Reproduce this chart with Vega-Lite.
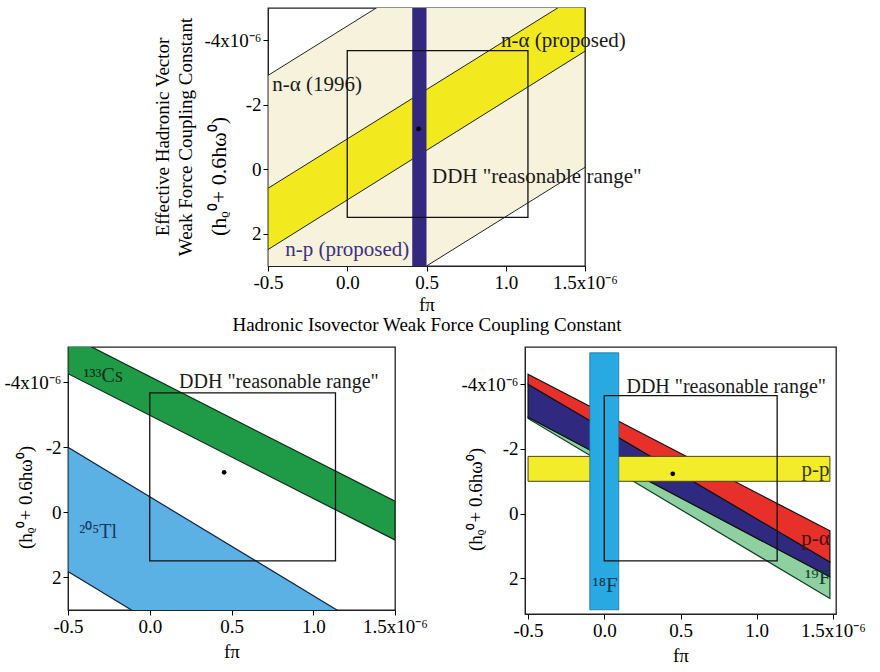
{
  "$schema": "https://vega.github.io/schema/vega-lite/v6.json",
  "background": "white",
  "padding": {"left": 3, "top": 5, "right": 0, "bottom": 0},
  "config": {
    "view": {"stroke": "#222222", "strokeWidth": 1.3},
    "axis": {"grid": false, "labelFlush": false, "labelFont": "Liberation Serif", "labelFontSize": 19, "labelColor": "black", "titleFont": "Liberation Serif", "titleFontSize": 19, "titleFontWeight": "normal", "titleColor": "black", "tickColor": "black", "domainColor": "#222222", "tickSize": 5, "labelPadding": 2},
    "text": {"font": "Liberation Serif", "fontSize": 20},
    "title": {"font": "Liberation Serif", "fontWeight": "normal", "color": "black"}
  },
  "spacing": 11,
  "vconcat": [
    {
      "spacing": 81,
      "hconcat": [
        {
          "width": 1, "height": 1, "view": {"stroke": null},
          "data": {"values": [{"x": 0}]},
          "mark": {"type": "point", "opacity": 0},
          "encoding": {"x": {"field": "x", "type": "quantitative", "axis": null}}
        },
        {
          "width": 317, "height": 258,
          "title": {"text": ["Effective Hadronic Vector", "Weak Force Coupling Constant"], "orient": "left", "anchor": "middle", "fontSize": 19, "lineHeight": 23, "offset": 8},
          "encoding": {
            "x": {"field": "x", "type": "quantitative", "scale": {"domain": [-0.5, 1.5], "nice": false, "zero": false},
              "axis": {"values": [-0.5, 0, 0.5, 1, 1.5], "labelExpr": "datum.value == 1.5 ? '1.5x10⁻⁶' : datum.value == -0.5 ? '-0.5' : format(datum.value, '.1f')", "title": ["fπ", "Hadronic Isovector Weak Force Coupling Constant"], "titleLineHeight": 20, "titlePadding": 3}},
            "y": {"field": "y", "type": "quantitative", "scale": {"domain": [-5, 3], "nice": false, "zero": false, "reverse": true},
              "axis": {"values": [-4, -2, 0, 2], "labelExpr": "datum.value == -4 ? '-4x10⁻⁶' : datum.value == -2 ? '-2' : format(datum.value, 'd')", "title": "(hᵨ⁰+ 0.6hω⁰)", "titleFontSize": 22, "titleX": -50, "titleY": 168, "titleAlign": "center", "titleBaseline": "middle", "titleAngle": 270}}
          },
          "layer": [
            {
              "data": {"values": [{"x": -0.5, "y": -2.91, "y2": 6.06}, {"x": 1.5, "y": -9.03, "y2": -0.06}]},
              "mark": {"type": "area", "orient": "vertical", "clip": true, "fill": "#f6f2dc", "stroke": "#222222", "strokeWidth": 1},
              "encoding": {"y2": {"field": "y2"}}
            },
            {
              "data": {"values": [{"x": -0.5, "y": 0.59, "y2": 2.49}, {"x": 1.5, "y": -5.53, "y2": -3.66}]},
              "mark": {"type": "area", "orient": "vertical", "clip": true, "fill": "#f2ea1e", "stroke": "#222222", "strokeWidth": 1},
              "encoding": {"y2": {"field": "y2"}}
            },
            {
              "data": {"values": [{"x": 0.41, "x2": 0.5, "y": -5, "y2": 3}]},
              "mark": {"type": "rect", "fill": "#33287f"},
              "encoding": {"x2": {"field": "x2"}, "y2": {"field": "y2"}}
            },
            {
              "data": {"values": [{"x": 0, "x2": 1.14, "y": -3.68, "y2": 1.49}]},
              "mark": {"type": "rect", "filled": false, "stroke": "#111111", "strokeWidth": 1.3},
              "encoding": {"x2": {"field": "x2"}, "y2": {"field": "y2"}}
            },
            {
              "data": {"values": [{"x": 0.45, "y": -1.25}]},
              "mark": {"type": "point", "filled": true, "color": "black", "size": 22, "opacity": 1}
            },
            {
              "data": {"values": [
                {"x": -0.19, "y": -2.6, "label": "n-α (1996)"},
                {"x": 1.364, "y": -3.97, "label": "n-α (proposed)"},
                {"x": 1.196, "y": 0.23, "label": "DDH \"reasonable range\""}
              ]},
              "mark": {"type": "text", "align": "center", "baseline": "middle", "color": "#1a1a1a", "fontSize": 21},
              "encoding": {"text": {"field": "label"}}
            },
            {
              "data": {"values": [{"x": 0.0, "y": 2.5, "label": "n-p (proposed)"}]},
              "mark": {"type": "text", "align": "center", "baseline": "middle", "color": "#3b2f86", "fontSize": 21},
              "encoding": {"text": {"field": "label"}}
            }
          ]
        }
      ]
    },
    {
      "spacing": 31,
      "hconcat": [
        {
          "width": 327, "height": 263,
          "encoding": {
            "x": {"field": "x", "type": "quantitative", "scale": {"domain": [-0.5, 1.5], "nice": false, "zero": false},
              "axis": {"values": [-0.5, 0, 0.5, 1, 1.5], "labelExpr": "datum.value == 1.5 ? '1.5x10⁻⁶' : datum.value == -0.5 ? '-0.5' : format(datum.value, '.1f')", "title": "fπ", "titlePadding": 6}},
            "y": {"field": "y", "type": "quantitative", "scale": {"domain": [-5.08, 3], "nice": false, "zero": false, "reverse": true},
              "axis": {"values": [-4, -2, 0, 2], "labelExpr": "datum.value == -4 ? '-4x10⁻⁶' : datum.value == -2 ? '-2' : format(datum.value, 'd')", "title": "(hᵨ⁰+ 0.6hω⁰)", "titleX": -43, "titleY": 150, "titleAlign": "center", "titleBaseline": "middle", "titleAngle": 270}}
          },
          "layer": [
            {
              "data": {"values": [{"x": -0.5, "y": -5.45, "y2": -4.26}, {"x": 1.5, "y": -0.34, "y2": 0.85}]},
              "mark": {"type": "area", "orient": "vertical", "clip": true, "fill": "#1f9a47", "stroke": "#0f2a18", "strokeWidth": 1.2},
              "encoding": {"y2": {"field": "y2"}}
            },
            {
              "data": {"values": [{"x": -0.5, "y": -2.0, "y2": 1.82}, {"x": 1.5, "y": 4.08, "y2": 7.9}]},
              "mark": {"type": "area", "orient": "vertical", "clip": true, "fill": "#5cb1e4", "stroke": "#14253d", "strokeWidth": 1.2},
              "encoding": {"y2": {"field": "y2"}}
            },
            {
              "data": {"values": [{"x": 0, "x2": 1.136, "y": -3.67, "y2": 1.49}]},
              "mark": {"type": "rect", "filled": false, "stroke": "#111111", "strokeWidth": 1.3},
              "encoding": {"x2": {"field": "x2"}, "y2": {"field": "y2"}}
            },
            {
              "data": {"values": [{"x": 0.455, "y": -1.23}]},
              "mark": {"type": "point", "filled": true, "color": "black", "size": 22, "opacity": 1}
            },
            {
              "data": {"values": [{"x": 0.79, "y": -4.0, "label": "DDH \"reasonable range\""}]},
              "mark": {"type": "text", "align": "center", "baseline": "middle", "color": "#1a1a1a"},
              "encoding": {"text": {"field": "label"}}
            },
            {
              "data": {"values": [{"x": -0.285, "y": -4.2, "label": "¹³³Cs"}]},
              "mark": {"type": "text", "align": "center", "baseline": "middle", "color": "#0e2e18"},
              "encoding": {"text": {"field": "label"}}
            },
            {
              "data": {"values": [{"x": -0.316, "y": 0.59, "label": "²⁰⁵Tl"}]},
              "mark": {"type": "text", "align": "center", "baseline": "middle", "color": "#173a63"},
              "encoding": {"text": {"field": "label"}}
            }
          ]
        },
        {
          "width": 311, "height": 267,
          "encoding": {
            "x": {"field": "x", "type": "quantitative", "scale": {"domain": [-0.52, 1.52], "nice": false, "zero": false},
              "axis": {"values": [-0.5, 0, 0.5, 1, 1.5], "labelExpr": "datum.value == 1.5 ? '1.5x10⁻⁶' : datum.value == -0.5 ? '-0.5' : format(datum.value, '.1f')", "title": "fπ", "titlePadding": 6}},
            "y": {"field": "y", "type": "quantitative", "scale": {"domain": [-5.15, 3.1], "nice": false, "zero": false, "reverse": true},
              "axis": {"values": [-4, -2, 0, 2], "labelExpr": "datum.value == -4 ? '-4x10⁻⁶' : datum.value == -2 ? '-2' : format(datum.value, 'd')", "title": "(hᵨ⁰+ 0.6hω⁰)", "titleX": -50, "titleY": 152, "titleAlign": "center", "titleBaseline": "middle", "titleAngle": 270}}
          },
          "layer": [
            {
              "data": {"values": [{"x": -0.5, "y": -2.98, "y2": -2.94}, {"x": 1.48, "y": 1.95, "y2": 2.62}]},
              "mark": {"type": "area", "orient": "vertical", "fill": "#8fd0a0", "stroke": "#0b3f24", "strokeWidth": 1.2},
              "encoding": {"y2": {"field": "y2"}}
            },
            {
              "data": {"values": [{"x": -0.5, "y": -4.0, "y2": -2.98}, {"x": 1.48, "y": 1.49, "y2": 1.95}]},
              "mark": {"type": "area", "orient": "vertical", "fill": "#2f2a80", "stroke": "#111111", "strokeWidth": 1.2},
              "encoding": {"y2": {"field": "y2"}}
            },
            {
              "data": {"values": [{"x": -0.5, "y": -4.31, "y2": -4.0}, {"x": 1.48, "y": 0.53, "y2": 1.49}]},
              "mark": {"type": "area", "orient": "vertical", "fill": "#e8302b", "stroke": "#111111", "strokeWidth": 1.2},
              "encoding": {"y2": {"field": "y2"}}
            },
            {
              "data": {"values": [{"x": -0.5, "x2": 1.48, "y": -1.77, "y2": -1.0}]},
              "mark": {"type": "rect", "fill": "#f3ec2a", "stroke": "#4a4710", "strokeWidth": 1},
              "encoding": {"x2": {"field": "x2"}, "y2": {"field": "y2"}}
            },
            {
              "data": {"values": [{"x": -0.095, "x2": 0.095, "y": -4.97, "y2": 2.97}]},
              "mark": {"type": "rect", "fill": "#29a9e1", "stroke": "#1d6f93", "strokeWidth": 0.8},
              "encoding": {"x2": {"field": "x2"}, "y2": {"field": "y2"}}
            },
            {
              "data": {"values": [{"x": 0, "x2": 1.134, "y": -3.65, "y2": 1.46}]},
              "mark": {"type": "rect", "filled": false, "stroke": "#111111", "strokeWidth": 1.3},
              "encoding": {"x2": {"field": "x2"}, "y2": {"field": "y2"}}
            },
            {
              "data": {"values": [{"x": 0.449, "y": -1.23}]},
              "mark": {"type": "point", "filled": true, "color": "black", "size": 22, "opacity": 1}
            },
            {
              "data": {"values": [{"x": 0.8, "y": -3.92, "label": "DDH \"reasonable range\""}]},
              "mark": {"type": "text", "align": "center", "baseline": "middle", "color": "#1a1a1a"},
              "encoding": {"text": {"field": "label"}}
            },
            {
              "data": {"values": [{"x": 1.385, "y": -1.36, "label": "p-p"}]},
              "mark": {"type": "text", "align": "center", "baseline": "middle", "color": "#3a3810", "fontSize": 21},
              "encoding": {"text": {"field": "label"}}
            },
            {
              "data": {"values": [{"x": 1.385, "y": 0.77, "label": "p-α"}]},
              "mark": {"type": "text", "align": "center", "baseline": "middle", "color": "#4a1010", "fontSize": 21},
              "encoding": {"text": {"field": "label"}}
            },
            {
              "data": {"values": [{"x": 1.4, "y": 2.0, "label": "¹⁹F"}]},
              "mark": {"type": "text", "align": "center", "baseline": "middle", "color": "#0b4026", "fontSize": 21},
              "encoding": {"text": {"field": "label"}}
            },
            {
              "data": {"values": [{"x": 0.005, "y": 2.22, "label": "¹⁸F"}]},
              "mark": {"type": "text", "align": "center", "baseline": "middle", "color": "#0d3a57", "fontSize": 21},
              "encoding": {"text": {"field": "label"}}
            }
          ]
        }
      ]
    }
  ]
}
